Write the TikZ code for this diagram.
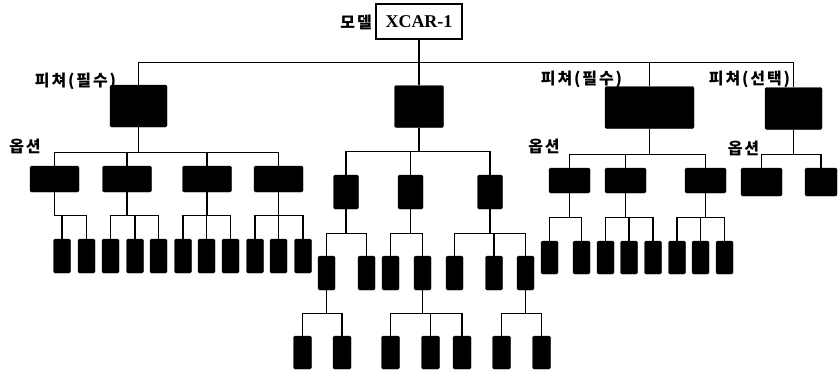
\documentclass[tikz,border=0pt]{standalone}
\usepackage{fontspec}
\setmainfont{Liberation Serif}
\newfontfamily\kofont{Noto Sans CJK KR}[LetterSpace=12]
\tikzset{
	box/.style={fill=black, draw=black, rounded corners=1.5pt, inner sep=0pt},
	feat/.style={box, minimum height=42pt},
	opt/.style={box, minimum width=41pt, minimum height=25pt},
	leaf/.style={box, minimum width=17pt, minimum height=34pt},
	lbl/.style={font=\kofont\bfseries\fontsize{16}{16}\selectfont, inner sep=0pt},
	link/.style={line width=1.2pt},
}

\begin{document}
\begin{tikzpicture}[x=1pt, y=-1pt]
	\useasboundingbox (0,0) rectangle (838,372);
	\node[draw=black, line width=1.2pt, minimum width=86pt, minimum height=35pt, inner sep=0pt,
		font=\bfseries\fontsize{18}{18}\selectfont] (model) at (419,21.5) {XCAR-1};
	\node[lbl, anchor=east] (modellbl) at (372,22) {모델};

	\node[feat, minimum width=57pt] (f1) at (138.5,106) {};
	\node[feat, minimum width=49pt] (f2) at (419,106.5) {};
	\node[feat, minimum width=89pt] (f3) at (649.5,107.5) {};
	\node[feat, minimum width=57pt] (f4) at (793.5,108.5) {};
	\draw[link] (model.south) -- ++(0,23) -| (f1.north);
	\draw[link] (model.south) -- ++(0,23) -| (f4.north);
	\draw[link] (model.south) -- ++(0,23) -| (f3.north);
	\draw[link] (model.south) -- (f2.north);

	\node[lbl] (req1) at (75.5,81) {피쳐(필수)};
	\node[lbl] (req2) at (581.5,79) {피쳐(필수)};
	\node[lbl] (sel) at (749.5,79.5) {피쳐(선택)};
	\node[lbl] (opt1) at (25,146.5) {옵션};
	\node[lbl] (opt3) at (544,146.5) {옵션};
	\node[lbl] (opt4) at (743.5,148.5) {옵션};

	\foreach \x [count=\i] in {54.5,127,207,278.5}{
		\node[opt, minimum width=49pt, minimum height=26pt] (a\i) at (\x,179) {};
		\draw[link] (f1.south) -- ++(0,25) -| (a\i.north);
	}
	\foreach \p/\x [count=\i] in {1/62,1/86.5,2/110.5,2/135,2/158.5,3/183,3/206.5,3/230.5,4/255,4/278.5,4/303}{
		\node[leaf] (al\i) at (\x,256) {};
		\draw[link] (a\p.south) -- ++(0,23) -| (al\i.north);
	}

	\foreach \x [count=\i] in {346,410.5,490}{
		\node[leaf, minimum width=25pt] (b\i) at (\x,192) {};
		\draw[link] (f2.south) -- ++(0,24) -| (b\i.north);
	}
	\foreach \p/\x [count=\i] in {1/326.5,1/366.5,2/390.5,2/422.5,3/454.5,3/494,3/525.5}{
		\node[leaf] (bl\i) at (\x,273) {};
		\draw[link] (b\p.south) -- ++(0,24) -| (bl\i.north);
	}
	\foreach \p/\x [count=\i] in {1/302.5,1/342,4/390.5,4/430.5,4/462,7/501.5,7/541.5}{
		\node[leaf, minimum width=18pt, minimum height=33pt] (bm\i) at (\x,352.5) {};
		\draw[link] (bl\p.south) -- ++(0,23) -| (bm\i.north);
	}

	\foreach \x [count=\i] in {569.5,625.5,705.5}{
		\node[opt] (c\i) at (\x,180.5) {};
		\draw[link] (f3.south) -- ++(0,26) -| (c\i.north);
	}
	\foreach \p/\x [count=\i] in {1/549.5,1/581.5,2/605.5,2/629,2/653,3/677,3/700.5,3/724.5}{
		\node[leaf, minimum height=33pt] (cl\i) at (\x,257.5) {};
		\draw[link] (c\p.south) -- ++(0,24) -| (cl\i.north);
	}

	\node[opt, minimum height=28pt] (d1) at (761.5,182) {};
	\node[opt, minimum width=32pt, minimum height=28pt] (d2) at (821,182) {};
	\draw[link] (f4.south) -- ++(0,25) -| (d1.north);
	\draw[link] (f4.south) -- ++(0,25) -| (d2.north);
\end{tikzpicture}
\end{document}
